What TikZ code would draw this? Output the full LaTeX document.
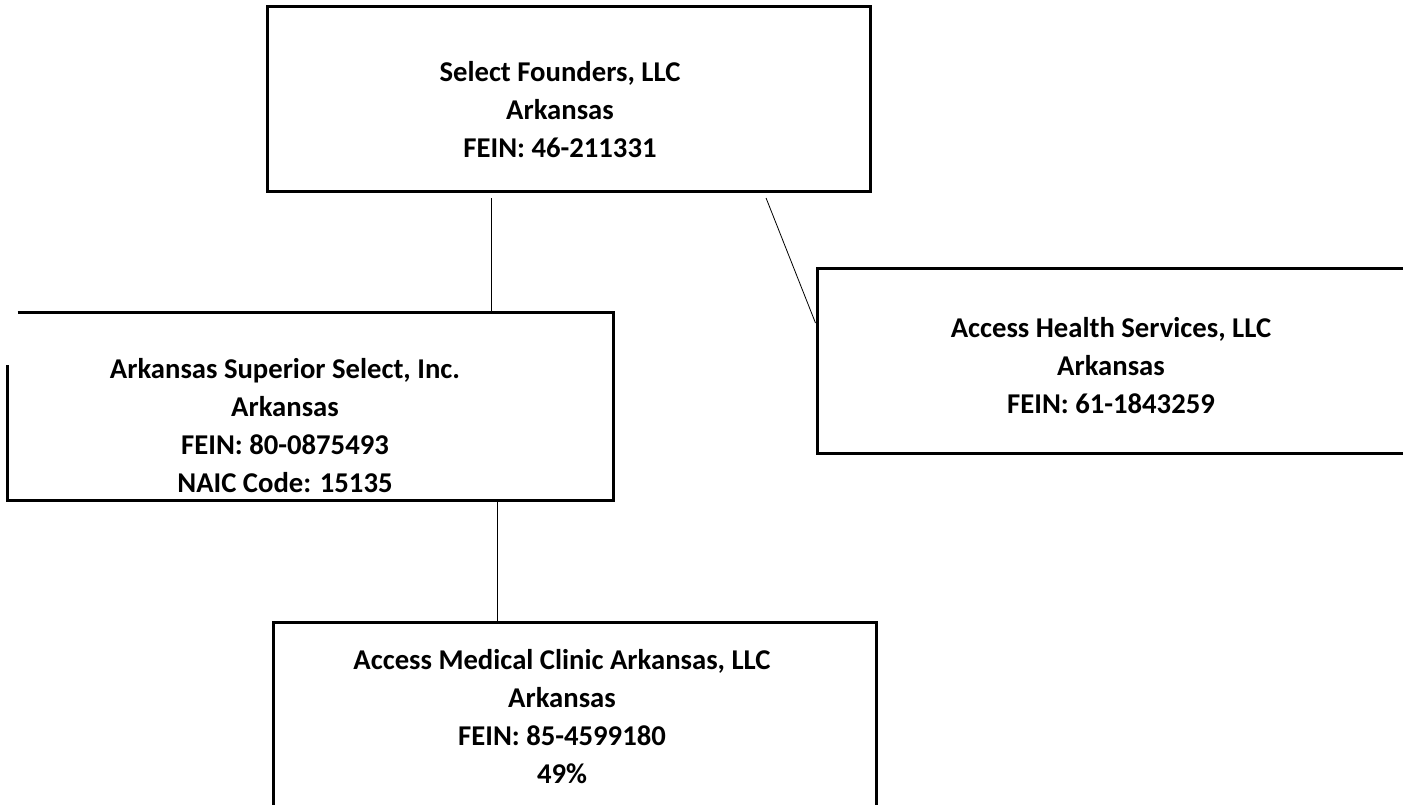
\documentclass[tikz,border=0pt]{standalone}
\usepackage{fontspec}
\setmainfont{Carlito}
\usepackage{tikz}
\usetikzlibrary{calc}
\usetikzlibrary{positioning}

\begin{document}
\begin{tikzpicture}[x=0.75pt, y=-0.75pt,
    entity/.style={draw, line width=2.25pt, minimum width=452.25pt,
      minimum height=138.75pt, inner sep=0pt},
    entitytext/.style={align=center,
      font=\bfseries\fontsize{21.5}{28.5}\selectfont},
    link/.style={line width=0.9pt}]

    \useasboundingbox (0, 0) rectangle (1403, 804);

    \node [entity] (founders) at (568.5, 99) {};
    \node [entitytext] (foundersText) at (560, 110)
    {Select Founders, LLC\\Arkansas\\FEIN: 46-211331};

    \node [entity, draw=none] (superior) at (310.5, 406.5) {};
    \draw [line width=2.25pt] ($(superior.north west)+(10, 0)$)
    -- (superior.north east) -- (superior.south east)
    -- (superior.south west) -- ($(superior.north west)+(0, 52)$);
    \node [entitytext] (superiorText) at (285, 426)
    {Arkansas Superior Select, Inc.\\Arkansas\\FEIN: 80-0875493\\NAIC Code: 15135};

    \node [entity] (health) at (1118.5, 361) {};
    \node [entitytext] (healthText) at (1111, 366)
    {Access Health Services, LLC\\Arkansas\\FEIN: 61-1843259};

    \node [entity] (clinic) at (574.5, 715) {};
    \node [entitytext] (clinicText) at (562, 717)
    {Access Medical Clinic Arkansas, LLC\\Arkansas\\FEIN: 85-4599180\\49\%};

    \draw [link] ($(founders.south west)!0.373!(founders.south east)$)
    ++(0, 5) coordinate (foundersLink) -- (foundersLink |- superior.north);

    \draw [link, line width=0.6pt] ($(founders.south west)!0.826!(founders.south east)$)
    ++(0, 5) -- ($(health.north west)+(0, 56)$);

    \draw [link] ($(superior.south west)!0.809!(superior.south east)$)
    coordinate (superiorLink) -- (superiorLink |- clinic.north);

  \end{tikzpicture}
\end{document}
